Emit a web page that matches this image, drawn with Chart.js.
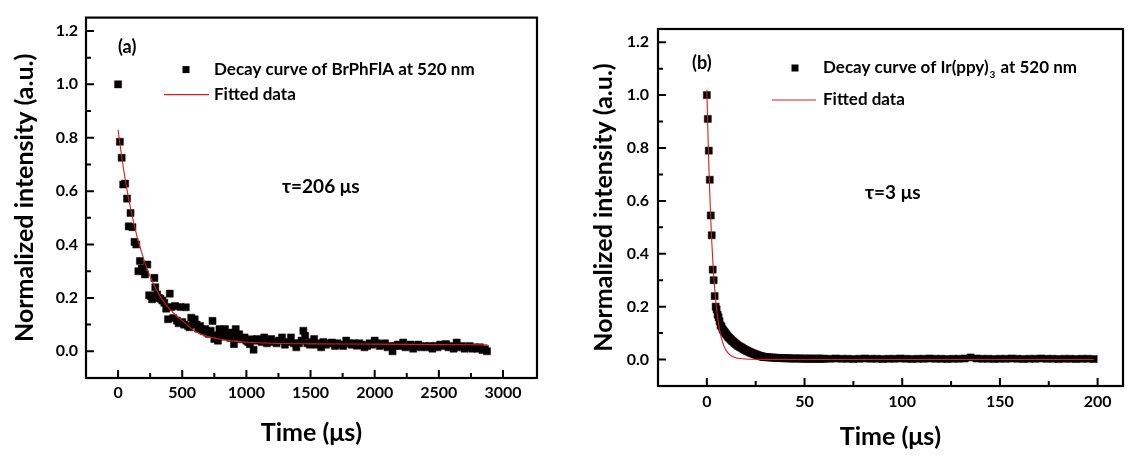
<!DOCTYPE html>
<html>
<head>
<meta charset="utf-8">
<script src="https://cdn.jsdelivr.net/npm/chart.js@4.4.0/dist/chart.umd.min.js"></script>
<style>
  html, body { margin: 0; padding: 0; background: #fff; }
  #wrap { position: relative; width: 1131px; height: 455px; }
  .panel { position: absolute; top: 0; height: 455px; }
  #panelA { left: 0; width: 565px; }
  #panelB { left: 565px; width: 566px; }
</style>
</head>
<body>
<div id="wrap">
  <div class="panel" id="panelA"><canvas id="chartA"></canvas></div>
  <div class="panel" id="panelB"><canvas id="chartB"></canvas></div>
</div>
<script>
const FONT = 'Lato, "Open Sans", sans-serif'

// ---- panel (a): BrPhFlA ----
const A_TIME = [
  0, 14, 28, 40, 55, 70, 83, 97, 112, 128,
  142, 158, 170, 185, 195, 210, 228, 242, 255, 265,
  283, 290, 305, 318, 330, 345, 360, 375, 389, 403,
  417, 430, 444, 458, 472, 486, 500, 515, 528, 545,
  557, 570, 585, 597, 612, 625, 640, 655, 668, 680,
  695, 708, 722, 736, 750, 765, 778, 790, 805, 820,
  833, 847, 861, 875, 889, 903, 917, 931, 944, 958,
  972, 986, 1000, 1014, 1028, 1042, 1056, 1070, 1083, 1100,
  1120, 1139, 1160, 1180, 1194, 1215, 1235, 1255, 1278, 1300,
  1320, 1347, 1370, 1389, 1410, 1430, 1444, 1458, 1475, 1495,
  1510, 1528, 1545, 1565, 1583, 1600, 1620, 1645, 1667, 1690,
  1710, 1735, 1755, 1778, 1800, 1820, 1840, 1861, 1880, 1900,
  1920, 1940, 1960, 1980, 2000, 2020, 2040, 2060, 2080, 2100,
  2120, 2139, 2160, 2180, 2200, 2222, 2240, 2260, 2280, 2300,
  2320, 2340, 2360, 2389, 2410, 2430, 2450, 2470, 2490, 2510,
  2530, 2556, 2575, 2595, 2615, 2639, 2660, 2680, 2700, 2720,
  2740, 2760, 2778, 2800, 2820, 2840, 2860, 2875
]
const A_DECAY = [
  1.00, 0.785, 0.725, 0.625, 0.628, 0.572, 0.468, 0.518, 0.465, 0.41,
  0.40, 0.30, 0.338, 0.31, 0.30, 0.288, 0.325, 0.21, 0.207, 0.195,
  0.275, 0.24, 0.213, 0.20, 0.197, 0.19, 0.182, 0.16, 0.12, 0.216,
  0.166, 0.125, 0.17, 0.115, 0.105, 0.166, 0.11, 0.10, 0.165, 0.095,
  0.09, 0.126, 0.11, 0.12, 0.10, 0.085, 0.095, 0.08, 0.075, 0.083,
  0.07, 0.065, 0.077, 0.114, 0.046, 0.06, 0.04, 0.083, 0.07, 0.055,
  0.083, 0.06, 0.064, 0.05, 0.07, 0.027, 0.083, 0.055, 0.064, 0.045,
  0.05, 0.052, 0.04, 0.035, 0.027, 0.045, 0.006, 0.04, 0.046, 0.042,
  0.035, 0.052, 0.03, 0.04, 0.046, 0.035, 0.03, 0.04, 0.052, 0.025,
  0.035, 0.052, 0.03, 0.015, 0.03, 0.04, 0.077, 0.058, 0.03, 0.025,
  0.035, 0.046, 0.025, 0.03, 0.015, 0.035, 0.025, 0.03, 0.033, 0.02,
  0.03, 0.025, 0.02, 0.04, 0.03, 0.025, 0.03, 0.021, 0.03, 0.025,
  0.015, 0.02, 0.03, 0.025, 0.04, 0.03, 0.02, 0.025, 0.03, 0.015,
  0.02, 0.0, 0.02, 0.025, 0.02, 0.033, 0.015, 0.02, 0.025, 0.01,
  0.02, 0.025, 0.015, 0.02, 0.015, 0.02, 0.01, 0.02, 0.015, 0.025,
  0.02, 0.027, 0.015, 0.02, 0.01, 0.033, 0.015, 0.02, 0.01, 0.015,
  0.02, 0.01, 0.015, 0.01, 0.015, 0.005, 0.008, 0.0
]
const A_FIT_TIME = [0, 25, 50, 75, 100, 125, 150, 175, 200, 250, 300, 350, 400, 450, 500, 600, 700, 800, 900, 1000, 1200, 1500, 2000, 2500, 2880]
const A_FIT = [0.83, 0.74, 0.66, 0.59, 0.53, 0.475, 0.425, 0.385, 0.345, 0.28, 0.23, 0.19, 0.16, 0.135, 0.115, 0.075, 0.055, 0.045, 0.038, 0.034, 0.030, 0.028, 0.027, 0.025, 0.024]
const A_X_TICKS = [0, 500, 1000, 1500, 2000, 2500, 3000]
const A_X_MINOR = [250, 750, 1250, 1750, 2250, 2750]

// ---- panel (b): Ir(ppy)3 ----
const B_TIME = [
  0, 0.5, 1, 1.5, 2, 2.5, 3, 3.5, 4, 4.5,
  5, 5.5, 6, 6.5, 7, 7.5, 8, 8.5, 9, 9.5,
  10, 10.5, 11, 11.5, 12, 12.5, 13, 13.5, 14, 14.5,
  15, 15.5, 16, 16.5, 17, 17.5, 18, 18.5, 19, 19.5,
  20, 20.5, 21, 21.5, 22, 22.5, 23, 23.5, 24, 24.5,
  25, 25.5, 26, 26.5, 27, 27.5, 28, 28.5, 29, 29.5,
  30,
  31, 32, 33, 34, 35, 36, 37, 38, 39, 40,
  41, 42, 43, 44, 45, 46, 47, 48, 49, 50,
  51, 52, 53, 54, 55, 56, 57, 58, 59, 60,
  63, 66, 69, 72, 75, 78, 81, 84, 87, 90,
  93, 96, 99, 102, 105, 108, 111, 114, 117, 120,
  123, 126, 129, 132, 135, 138, 141, 144, 147, 150,
  153, 156, 159, 162, 165, 168, 171, 174, 177, 180,
  183, 186, 189, 192, 195, 198
]
const B_DECAY = [
  1.00, 0.91, 0.79, 0.68, 0.545, 0.47, 0.34, 0.30, 0.24, 0.20,
  0.19, 0.17, 0.16, 0.145, 0.13, 0.125, 0.115, 0.11, 0.105, 0.10,
  0.095, 0.09, 0.085, 0.082, 0.078, 0.074, 0.07, 0.068, 0.064, 0.061,
  0.058, 0.055, 0.052, 0.05, 0.048, 0.046, 0.044, 0.041, 0.039, 0.037,
  0.035, 0.033, 0.031, 0.03, 0.028, 0.026, 0.025, 0.023, 0.022, 0.02,
  0.019, 0.018, 0.016, 0.015, 0.014, 0.013, 0.012, 0.011, 0.01, 0.01,
  0.009,
  0.009, 0.008, 0.008, 0.007, 0.007, 0.006, 0.006, 0.006, 0.005, 0.005,
  0.005, 0.005, 0.004, 0.004, 0.004, 0.004, 0.004, 0.004, 0.003, 0.004,
  0.003, 0.003, 0.004, 0.003, 0.003, 0.003, 0.004, 0.003, 0.003, 0.003,
  0.003, 0.004, 0.003, 0.003, 0.002, 0.003, 0.004, 0.003, 0.003, 0.002,
  0.003, 0.003, 0.004, 0.003, 0.002, 0.003, 0.003, 0.004, 0.003, 0.003,
  0.002, 0.003, 0.003, 0.004, 0.008, 0.004, 0.003, 0.003, 0.002, 0.003,
  0.003, 0.004, 0.003, 0.002, 0.003, 0.003, 0.004, 0.003, 0.003, 0.002,
  0.003, 0.003, 0.002, 0.003, 0.003, 0.002
]
const B_FIT_TIME = [0, 0.5, 1, 1.5, 2, 2.5, 3, 3.5, 4, 5, 6, 7, 8, 9, 10, 12, 14, 17, 20, 25, 30, 40, 60, 100, 150, 198]
const B_FIT = [1.02, 0.87, 0.74, 0.63, 0.53, 0.45, 0.38, 0.32, 0.27, 0.19, 0.135, 0.095, 0.067, 0.047, 0.033, 0.017, 0.009, 0.004, 0.002, 0.001, 0.0005, 0.0002, 0.0001, 0, 0, 0]
const B_X_TICKS = [0, 50, 100, 150, 200]
const B_X_MINOR = [25, 75, 125, 175]

const Y_TICKS = [0, 0.2, 0.4, 0.6, 0.8, 1.0, 1.2]
const Y_MINOR = [0.1, 0.3, 0.5, 0.7, 0.9, 1.1]


// frame around the plot plus inward tick marks (Origin style)
const frameTicks = {
  id: 'frameTicks',
  afterDraw(chart, args, opts) {
    const {ctx, chartArea: a, scales: {x, y}} = chart
    ctx.save()
    ctx.strokeStyle = '#000'
    ctx.lineWidth = 2
    ctx.beginPath()
    opts.xMajor.forEach(v => { let p = x.getPixelForValue(v); ctx.moveTo(p, a.bottom); ctx.lineTo(p, a.bottom - 8) })
    opts.xMinor.forEach(v => { let p = x.getPixelForValue(v); ctx.moveTo(p, a.bottom); ctx.lineTo(p, a.bottom - 5) })
    opts.yMajor.forEach(v => { let p = y.getPixelForValue(v); ctx.moveTo(a.left, p); ctx.lineTo(a.left + 8, p) })
    opts.yMinor.forEach(v => { let p = y.getPixelForValue(v); ctx.moveTo(a.left, p); ctx.lineTo(a.left + 5, p) })
    ctx.stroke()
    ctx.lineWidth = 2.2
    ctx.strokeRect(a.left, a.top, a.right - a.left, a.bottom - a.top)
    ctx.restore()
  }
}

// draws text with unicode subscript digits as small lowered digits
function drawRich(ctx, text, x, y, size) {
  text.split(/([\u2080-\u2089]+)/).forEach(part => {
    if (!part) return
    if (/^[\u2080-\u2089]+$/.test(part)) {
      let d = part.split('').map(c => String.fromCharCode(c.charCodeAt(0) - 0x2080 + 48)).join('')
      ctx.font = 'bold ' + Math.round(size * 0.6) + 'px ' + FONT
      ctx.fillText(d, x + 1, y + size * 0.4)
      x += ctx.measureText(d).width + 2
      ctx.font = 'bold ' + size + 'px ' + FONT
    } else {
      ctx.fillText(part, x, y)
      x += ctx.measureText(part).width
    }
  })
}

// legend, panel letter and lifetime note, placed relative to the chart area
const notes = {
  id: 'notes',
  afterDraw(chart, args, opts) {
    const {ctx, chartArea: a} = chart
    ctx.save()
    ctx.fillStyle = '#000'
    ctx.textBaseline = 'middle'
    ctx.textAlign = 'left'
    ctx.font = 'bold 18px ' + FONT
    ctx.fillText(opts.letter, a.left + opts.letterPos[0], a.top + opts.letterPos[1])
    ctx.font = 'bold 19px ' + FONT
    ctx.fillText(opts.tau, a.left + opts.tauPos[0], a.top + opts.tauPos[1])

    ctx.font = 'bold 17px ' + FONT
    chart.data.datasets.forEach((ds, i) => {
      let row = opts.legendRows[i]
      let yy = a.top + row
      if (ds.showLine) {
        ctx.strokeStyle = ds.borderColor
        ctx.lineWidth = 1.2
        ctx.beginPath()
        ctx.moveTo(a.left + opts.lineFrom, yy)
        ctx.lineTo(a.left + opts.lineTo, yy)
        ctx.stroke()
      } else {
        ctx.fillStyle = '#000'
        ctx.fillRect(a.left + opts.markX - 3.5, yy - 3.5, 7, 7)
      }
      ctx.fillStyle = '#000'
      drawRich(ctx, ds.label, a.left + opts.textX, yy, 17)
    })
    ctx.restore()
  }
}

function buildPanel(canvasId, p) {
  let ctx = document.getElementById(canvasId).getContext('2d')
  return new Chart(ctx, {
    type: 'scatter',
    data: {
      datasets: [
        {
          label: p.decayLabel,
          data: p.time.map((t, i) => ({x: t, y: p.decay[i]})),
          pointStyle: 'rect',
          pointRadius: 5,
          pointHoverRadius: 5,
          backgroundColor: '#000',
          borderColor: '#1a0000',
          borderWidth: 0.5,
          order: 1,
        },
        {
          label: 'Fitted data',
          data: p.fitTime.map((t, i) => ({x: t, y: p.fit[i]})),
          showLine: true,
          pointRadius: 0,
          borderColor: '#d42020',
          borderWidth: 1.1,
          cubicInterpolationMode: 'monotone',
          order: 0,
        },
      ],
    },
    options: {
      responsive: true,
      maintainAspectRatio: false,
      animation: false,
      layout: { padding: { top: p.padTop, right: p.padRight, left: 0, bottom: 0 } },
      plugins: {
        legend: { display: false },
        tooltip: { enabled: false },
        frameTicks: { xMajor: p.xTicks, xMinor: p.xMinor, yMajor: Y_TICKS, yMinor: Y_MINOR },
        notes: p.notes,
      },
      scales: {
        x: {
          type: 'linear',
          min: p.xMin,
          max: p.xMax,
          afterBuildTicks: s => { s.ticks = p.xTicks.map(v => ({value: v})) },
          afterFit: s => { s.height = p.xAxisHeight },
          grid: { display: false, drawTicks: false },
          border: { display: false },
          ticks: { color: '#000', padding: p.xTickPad, maxRotation: 0, autoSkip: false, callback: v => String(v), font: { family: FONT, size: 16, weight: 'bold' } },
          title: { display: true, text: 'Time (\u03bcs)', color: '#000', padding: { top: 0, bottom: p.xTitlePad }, font: { family: FONT, size: 25, weight: 'bold' } },
        },
        y: {
          type: 'linear',
          min: -0.1,
          max: 1.25,
          afterBuildTicks: s => { s.ticks = Y_TICKS.map(v => ({value: v})) },
          afterFit: s => { s.width = p.yAxisWidth },
          grid: { display: false, drawTicks: false },
          border: { display: false },
          ticks: { color: '#000', padding: p.yTickPad, callback: v => v.toFixed(1), font: { family: FONT, size: 16, weight: 'bold' } },
          title: { display: true, text: 'Normalized intensity (a.u.)', color: '#000', padding: { top: p.yTitlePad, bottom: 0 }, font: { family: FONT, size: 25, weight: 'bold' } },
        },
      },
    },
    plugins: [frameTicks, notes],
  })
}

buildPanel('chartA', {
  decayLabel: 'Decay curve of BrPhFlA at 520 nm',
  time: A_TIME, decay: A_DECAY, fitTime: A_FIT_TIME, fit: A_FIT,
  xTicks: A_X_TICKS, xMinor: A_X_MINOR,
  xMin: -250, xMax: 3265,
  padTop: 14, padRight: 28, xAxisHeight: 77, yAxisWidth: 86,
  xTickPad: 5, yTickPad: 8, xTitlePad: 7, yTitlePad: 10,
  notes: {
    letter: '(a)', letterPos: [32, 30],
    tau: '\u03c4=206 \u03bcs', tauPos: [196, 169],
    legendRows: [52, 77], markX: 100, lineFrom: 78, lineTo: 123, textX: 128,
  },
})

buildPanel('chartB', {
  decayLabel: 'Decay curve of Ir(ppy)\u2083 at 520 nm',
  time: B_TIME, decay: B_DECAY, fitTime: B_FIT_TIME, fit: B_FIT,
  xTicks: B_X_TICKS, xMinor: B_X_MINOR,
  xMin: -25, xMax: 213,
  padTop: 29, padRight: 8, xAxisHeight: 69, yAxisWidth: 93,
  xTickPad: 6, yTickPad: 9, xTitlePad: 3, yTitlePad: 24,
  notes: {
    letter: '(b)', letterPos: [34, 34],
    tau: '\u03c4=3 \u03bcs', tauPos: [207, 164],
    legendRows: [39, 71], markX: 137, lineFrom: 114, lineTo: 158, textX: 165,
  },
})
</script>
</body>
</html>
